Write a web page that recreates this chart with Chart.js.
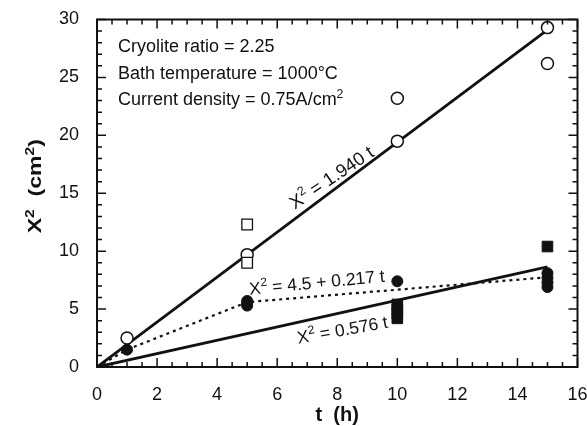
<!DOCTYPE html>
<html>
<head>
<meta charset="utf-8">
<script src="https://cdn.jsdelivr.net/npm/chart.js@4.4.1/dist/chart.umd.min.js"></script>
<style>
html,body{margin:0;padding:0;background:#fff;}
#wrap{width:587px;height:426px;}
</style>
</head>
<body>
<div id="wrap"><canvas id="c" width="587" height="426"></canvas></div>
<script>
// ---- data ----
const openCircleT = [1, 5, 10, 10, 15, 15];
const openCircleX2 = [2.5, 9.7, 19.5, 23.2, 29.3, 26.2];
const openSquareT = [5, 5];
const openSquareX2 = [12.3, 9.0];
const filledCircleT = [1, 5, 5, 5, 10, 15, 15, 15, 15];
const filledCircleX2 = [1.5, 5.7, 5.5, 5.3, 7.4, 8.1, 7.7, 7.3, 6.9];
const filledSquareT = [10, 10, 10, 10, 15];
const filledSquareX2 = [5.4, 5.0, 4.6, 4.2, 10.4];
const fitT = [0, 15];
const fitHighX2 = [0, 29.1];   // X^2 = 1.940 t
const fitLowX2 = [0, 8.64];    // X^2 = 0.576 t
const dotT = [0, 1, 5, 15];
const dotX2 = [0, 1.5, 5.6, 7.75]; // X^2 = 4.5 + 0.217 t
const xTicks = [0, 2, 4, 6, 8, 10, 12, 14, 16];
const yTicks = [0, 5, 10, 15, 20, 25, 30];
const xTitle = 't  (h)';
// rich-text pieces: [text, isSuperscript]
const yTitle = [['X', 0], ['2', 1], ['  (cm', 0], ['2', 1], [')', 0]];
const infoLines = [
  [['Cryolite ratio = 2.25', 0]],
  [['Bath temperature = 1000°C', 0]],
  [['Current density = 0.75A/cm', 0], ['2', 1]]
];
const eqLabels = [
  [['X', 0], ['2', 1], [' = 1.940 t', 0]],
  [['X', 0], ['2', 1], [' = 4.5 + 0.217 t', 0]],
  [['X', 0], ['2', 1], [' = 0.576 t', 0]]
];

const INK = '#111';
const FONT = "'Liberation Sans', Arial, Helvetica, sans-serif";
const pts = (ts, vs) => ts.map((t, i) => ({x: t, y: vs[i]}));

function richWidth(ctx, segs, fs, weight) {
  let w = 0;
  for (const [s, sup] of segs) {
    ctx.font = weight + ' ' + (sup ? fs * 0.68 : fs) + 'px ' + FONT;
    w += ctx.measureText(s).width;
  }
  return w;
}
// draws with alphabetic baseline at y; align 'left' or 'center'
function drawRich(ctx, segs, x, y, fs, weight, align) {
  let cx = x;
  if (align === 'center') cx = x - richWidth(ctx, segs, fs, weight) / 2;
  ctx.textAlign = 'left';
  ctx.textBaseline = 'alphabetic';
  for (const [s, sup] of segs) {
    const f = sup ? fs * 0.68 : fs;
    ctx.font = weight + ' ' + f + 'px ' + FONT;
    ctx.fillText(s, cx, sup ? y - fs * 0.42 : y);
    cx += ctx.measureText(s).width;
  }
}

const overlay = {
  id: 'overlay',
  afterDraw(chart) {
    const {ctx, chartArea: a, scales: {x, y}} = chart;
    ctx.save();
    ctx.strokeStyle = INK;
    ctx.lineWidth = 2;
    ctx.strokeRect(a.left, a.top, a.right - a.left, a.bottom - a.top);
    ctx.lineWidth = 1.5;
    ctx.beginPath();
    for (let v = x.min; v <= x.max + 1e-9; v += 0.5) {
      const px = x.getPixelForValue(v);
      const len = (Math.abs(v % 2) < 1e-9) ? 9 : 5;
      ctx.moveTo(px, a.bottom); ctx.lineTo(px, a.bottom - len);
      ctx.moveTo(px, a.top); ctx.lineTo(px, a.top + len);
    }
    for (let v = y.min; v <= y.max + 1e-9; v += 1) {
      const py = y.getPixelForValue(v);
      const len = (Math.abs(v % 5) < 1e-9) ? 9 : 5;
      ctx.moveTo(a.left, py); ctx.lineTo(a.left + len, py);
      ctx.moveTo(a.right, py); ctx.lineTo(a.right - len, py);
    }
    ctx.stroke();

    ctx.fillStyle = INK;
    // info text
    const infoY = [27.2, 24.9, 22.6];
    infoLines.forEach((segs, i) => drawRich(ctx, segs, x.getPixelForValue(0.7), y.getPixelForValue(infoY[i]), 18, 'normal', 'left'));

    // equation labels (centre position in data units, angle in degrees)
    const eq = [
      {t: 7.8, v: 16.4, ang: -34, fs: 18.5},
      {t: 7.32, v: 7.34, ang: -5.5, fs: 17.5},
      {t: 8.17, v: 3.24, ang: -10, fs: 17.5}
    ];
    eq.forEach((e, i) => {
      ctx.save();
      ctx.translate(x.getPixelForValue(e.t), y.getPixelForValue(e.v));
      ctx.rotate(e.ang * Math.PI / 180);
      drawRich(ctx, eqLabels[i], 0, e.fs * 0.36, e.fs, 'normal', 'center');
      ctx.restore();
    });

    // y axis title (rotated, wide lettering as in the reference)
    ctx.save();
    ctx.translate(35, (a.top + a.bottom) / 2 - 7);
    ctx.rotate(-Math.PI / 2);
    ctx.scale(1.28, 1);
    drawRich(ctx, yTitle, 0, 18 * 0.36, 18, 'bold', 'center');
    ctx.restore();
    ctx.restore();
  }
};

new Chart(document.getElementById('c'), {
  type: 'scatter',
  data: {
    datasets: [
      {data: pts(openSquareT, openSquareX2), pointStyle: 'rect', pointRadius: 7.5, backgroundColor: '#fff', borderColor: INK, borderWidth: 1.3, order: 1},
      {data: pts(filledSquareT, filledSquareX2), pointStyle: 'rect', pointRadius: 7.5, backgroundColor: INK, borderColor: INK, borderWidth: 1, order: 1},
      {data: pts(openCircleT, openCircleX2), pointStyle: 'circle', pointRadius: 6, backgroundColor: '#fff', borderColor: INK, borderWidth: 1.5, order: 2},
      {data: pts(filledCircleT, filledCircleX2), pointStyle: 'circle', pointRadius: 5.5, backgroundColor: INK, borderColor: INK, borderWidth: 1, order: 2},
      {type: 'line', data: pts(fitT, fitHighX2), borderColor: INK, borderWidth: 2.8, pointRadius: 0, fill: false, order: 5},
      {type: 'line', data: pts(fitT, fitLowX2), borderColor: INK, borderWidth: 2.8, pointRadius: 0, fill: false, order: 5},
      {type: 'line', data: pts(dotT, dotX2), borderColor: INK, borderWidth: 2.2, borderDash: [3, 4], pointRadius: 0, fill: false, order: 5}
    ]
  },
  options: {
    responsive: false,
    animation: false,
    events: [],
    layout: {padding: {left: 0, right: 9.5, top: 19.5, bottom: 0}},
    plugins: {legend: {display: false}, tooltip: {enabled: false}},
    scales: {
      x: {
        type: 'linear', min: 0, max: 16,
        afterBuildTicks: s => { s.ticks = xTicks.map(v => ({value: v})); },
        ticks: {color: INK, font: {family: FONT, size: 18}, padding: 17, maxRotation: 0, autoSkip: false},
        grid: {display: false, drawTicks: false},
        border: {display: false},
        title: {display: true, text: xTitle, color: INK, font: {family: FONT, size: 20, weight: 'bold', lineHeight: 1.1}, padding: 0},
        afterFit: s => { s.height = 59; s.paddingLeft = 0; s.paddingRight = 0; }
      },
      y: {
        type: 'linear', min: 0, max: 30,
        afterBuildTicks: s => { s.ticks = yTicks.map(v => ({value: v})); },
        ticks: {color: INK, font: {family: FONT, size: 18}, padding: 18, autoSkip: false},
        grid: {display: false, drawTicks: false},
        border: {display: false},
        title: {display: false},
        afterFit: s => { s.width = 97; s.paddingTop = 0; s.paddingBottom = 0; }
      }
    }
  },
  plugins: [overlay]
});
</script>
</body>
</html>
